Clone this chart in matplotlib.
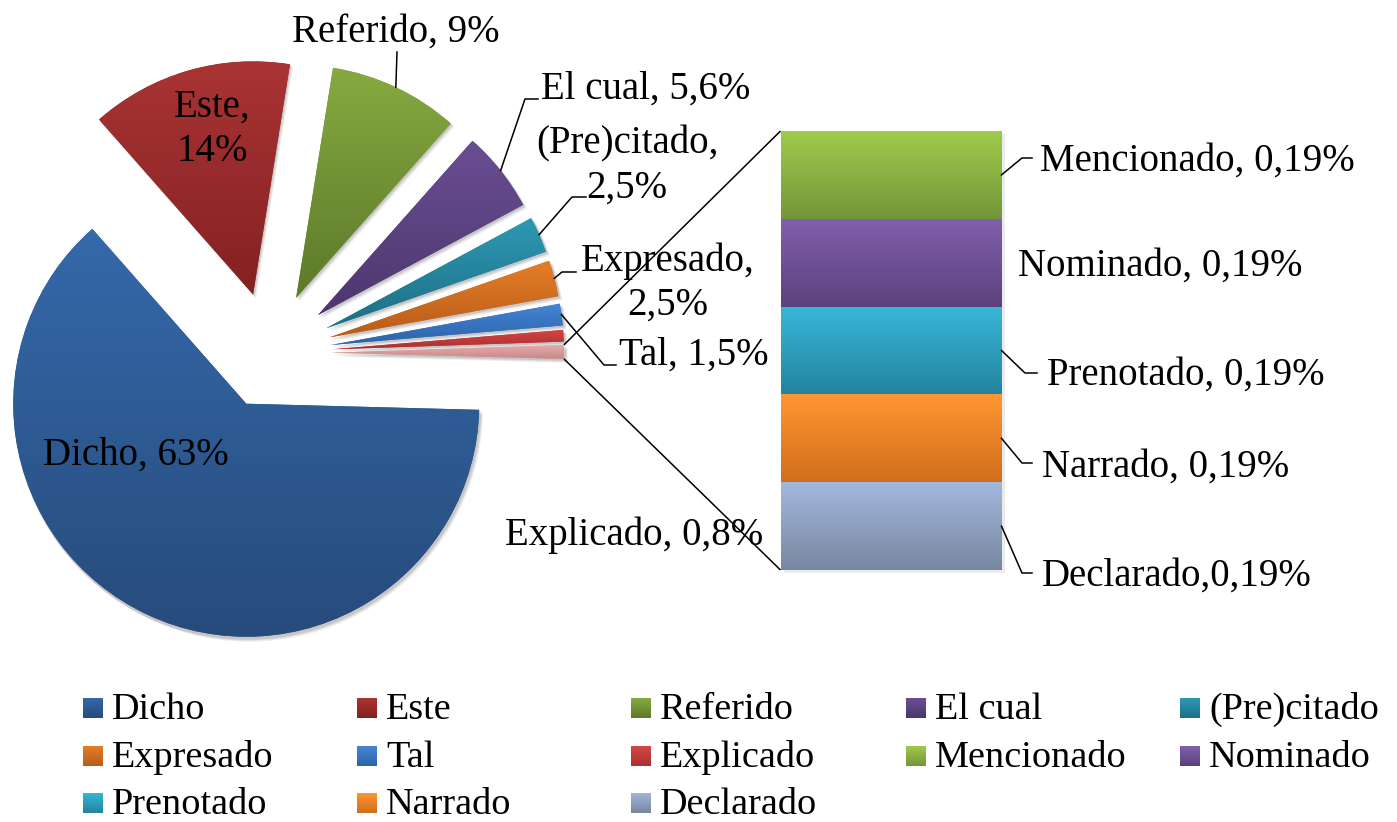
import numpy as np
import matplotlib
matplotlib.use("Agg")
import matplotlib.pyplot as plt
from matplotlib.patches import Rectangle, Wedge
from matplotlib.colors import to_rgb

# ---------------- data ----------------
pie_labels = ["Dicho", "Este", "Referido", "El cual", "(Pre)citado",
              "Expresado", "Tal", "Explicado"]
pie_values = [63, 14, 9, 5.6, 2.5, 2.5, 1.5, 0.8]
bar_labels = ["Mencionado", "Nominado", "Prenotado", "Narrado", "Declarado"]
bar_values = [0.19, 0.19, 0.19, 0.19, 0.19]

# ---------------- styles ----------------
pie_top = ["#3569AA", "#AA3434", "#86AA40", "#6A4E94", "#2E99B5",
           "#E57E27", "#4486D6", "#D64646"]
pie_bot = ["#274B7B", "#842121", "#5D792A", "#4D376D", "#1E6F84",
           "#B85C19", "#2D62A6", "#AB3030"]
other_top, other_bot = "#E6AAAA", "#C88888"
bar_top = ["#A0CB4C", "#8160AD", "#38B7D9", "#FF9632", "#A4B8DE"]
bar_bot = ["#73953A", "#5B417C", "#23849E", "#D06E1C", "#76879F"]

pie_sep = [", ", ",\n", ", ", ", ", ",\n", ",\n", ", ", ", "]
bar_sep = [", ", ", ", ", ", ", ", ","]

plt.rcParams["font.family"] = ["Liberation Serif", "DejaVu Serif"]
FS = 28

W, H = 1397, 822
fig = plt.figure(figsize=(W / 100, H / 100), dpi=100)
ax = fig.add_axes([0, 0, 1, 1])


def py(y):
    return H - y


def mix(c1, c2, t=0.5):
    a, b = np.array(to_rgb(c1)), np.array(to_rgb(c2))
    return tuple(a * (1 - t) + b * t)


def grad_fill(patch, top, bot, z):
    verts = patch.get_patch_transform().transform(patch.get_path().vertices)
    x0, y0 = verts.min(0)
    x1, y1 = verts.max(0)
    t = np.linspace(0, 1, 256)[:, None]
    img = (np.array(to_rgb(bot)) * (1 - t) + np.array(to_rgb(top)) * t)[:, None, :]
    im = ax.imshow(img, extent=(x0, x1, y0, y1), origin="lower",
                   aspect="auto", zorder=z, interpolation="bilinear")
    im.set_clip_path(patch)


def fmt(v):
    return f"{v:g}".replace(".", ",")


# ---------------- pie ----------------
values = pie_values + [sum(bar_values)]
tops = pie_top + [other_top]
bots = pie_bot + [other_bot]
R = 233
explode = [56] + [61] * (len(values) - 1)
C = (270, py(353))
wedges, _ = ax.pie(values, explode=explode, radius=R, center=C,
                   startangle=-1.5, counterclock=False,
                   colors=[mix(t, b) for t, b in zip(tops, bots)],
                   wedgeprops=dict(linewidth=0, zorder=2))
ax.set_xlim(0, W)
ax.set_ylim(0, H)
ax.set_aspect("equal")
ax.axis("off")

for w, t, b in zip(wedges, tops, bots):
    for dx, dy, al in [(3, -4, 0.06), (2, -3, 0.08), (1, -2, 0.1)]:
        ax.add_patch(Wedge((w.center[0] + dx, w.center[1] + dy), w.r + 1,
                           w.theta1, w.theta2, color="black", alpha=al,
                           lw=0, zorder=1))
    grad_fill(w, t, b, 2.1)

# ---------------- bar of pie ----------------
scale = 439 / sum(bar_values)
bx, bw = 891, 221
bar_bottom = py(570)
rev_vals = bar_values[::-1]
heights = np.array([v * scale for v in rev_vals])
bottoms = bar_bottom + np.concatenate([[0], np.cumsum(heights)[:-1]])
rects = ax.bar([bx] * len(rev_vals), heights, width=bw, bottom=bottoms,
               color=[mix(t, b) for t, b in zip(bar_top[::-1], bar_bot[::-1])],
               linewidth=0, zorder=2)
for r, t, b in zip(rects, bar_top[::-1], bar_bot[::-1]):
    ax.add_patch(Rectangle((r.get_x() + 3, r.get_y() - 3), r.get_width(),
                           r.get_height(), color="black", alpha=0.08, lw=0,
                           zorder=1))
    grad_fill(r, t, b, 2.1)

# connector lines
ow = wedges[-1]
a_lo, a_hi = np.radians(ow.theta1), np.radians(ow.theta2)
p_hi = (ow.center[0] + R * np.cos(a_hi), ow.center[1] + R * np.sin(a_hi))
p_lo = (ow.center[0] + R * np.cos(a_lo), ow.center[1] + R * np.sin(a_lo))
bar_left = bx - bw / 2
bar_topy = bottoms[-1] + heights[-1]
ax.plot([p_hi[0], bar_left], [p_hi[1], bar_topy], color="black", lw=1.1,
        zorder=3, solid_capstyle="butt")
ax.plot([p_lo[0], bar_left], [p_lo[1], bar_bottom], color="black", lw=1.1,
        zorder=3, solid_capstyle="butt")

# ---------------- data labels ----------------
# (x, baseline of last line, ha) in pixels from top-left
pie_text = [(136, 465, "center"), (212, 161, "center"), (396, 42, "center"),
            (541, 99, "left"), (627, 198, "center"), (668, 315, "center"),
            (619, 365, "left"), (634, 545, "center")]
pie_leaders = {2: [(397, 52)], 3: [(525, 99), (538, 99)],
               4: [(572, 197), (586, 197)], 5: [(562, 272), (576, 272)],
               6: [(604, 365), (616, 365)]}


def arc_mid(w):
    a = np.radians((w.theta1 + w.theta2) / 2)
    return w.center[0] + w.r * np.cos(a), w.center[1] + w.r * np.sin(a)


for i, (name, v) in enumerate(zip(pie_labels, pie_values)):
    x, y, ha = pie_text[i]
    ax.text(x, py(y), f"{name}{pie_sep[i]}{fmt(v)}%", ha=ha, va="baseline",
            fontsize=FS, linespacing=1.26, zorder=4)
    if i in pie_leaders:
        ax0, ay0 = arc_mid(wedges[i])
        pts = [(ax0, ay0)] + [(px, py(pyy)) for px, pyy in pie_leaders[i]]
        ax.plot([p[0] for p in pts], [p[1] for p in pts], color="black",
                lw=1.1, zorder=3)

bar_text = [(1040, 171), (1018, 276), (1047, 385), (1042, 477), (1042, 586)]
bar_leaders = {0: [(1022, 158), (1032, 158)], 2: [(1025, 373), (1037, 373)],
               3: [(1022, 463), (1032, 463)], 4: [(1022, 573), (1032, 573)]}
rects_top_down = list(rects)[::-1]
for i, (name, v) in enumerate(zip(bar_labels, bar_values)):
    x, y = bar_text[i]
    ax.text(x, py(y), f"{name}{bar_sep[i]}{fmt(v)}%", ha="left", va="baseline",
            fontsize=FS, zorder=4)
    if i in bar_leaders:
        r = rects_top_down[i]
        ax0 = r.get_x() + r.get_width()
        ay0 = r.get_y() + r.get_height() / 2
        pts = [(ax0, ay0)] + [(px, py(pyy)) for px, pyy in bar_leaders[i]]
        ax.plot([p[0] for p in pts], [p[1] for p in pts], color="black",
                lw=1.1, zorder=3)

# ---------------- legend ----------------
leg_labels = pie_labels + bar_labels
leg_tops = pie_top + bar_top
leg_bots = pie_bot + bar_bot
col_x = [83, 357, 631, 906, 1180]
row_y = [708, 756, 803]
for k, (name, t, b) in enumerate(zip(leg_labels, leg_tops, leg_bots)):
    r, c = divmod(k, 5)
    mx, my = col_x[c], row_y[r]
    sq = Rectangle((mx, py(my + 10)), 20, 20, color=mix(t, b), lw=0, zorder=2)
    ax.add_patch(sq)
    grad_fill(sq, t, b, 2.1)
    ax.text(mx + 29, py(my + 11), name, ha="left", va="baseline",
            fontsize=27.5, zorder=4)

ax.set_xlim(0, W)
ax.set_ylim(0, H)
fig.savefig("out.png", dpi=100, facecolor="white")
